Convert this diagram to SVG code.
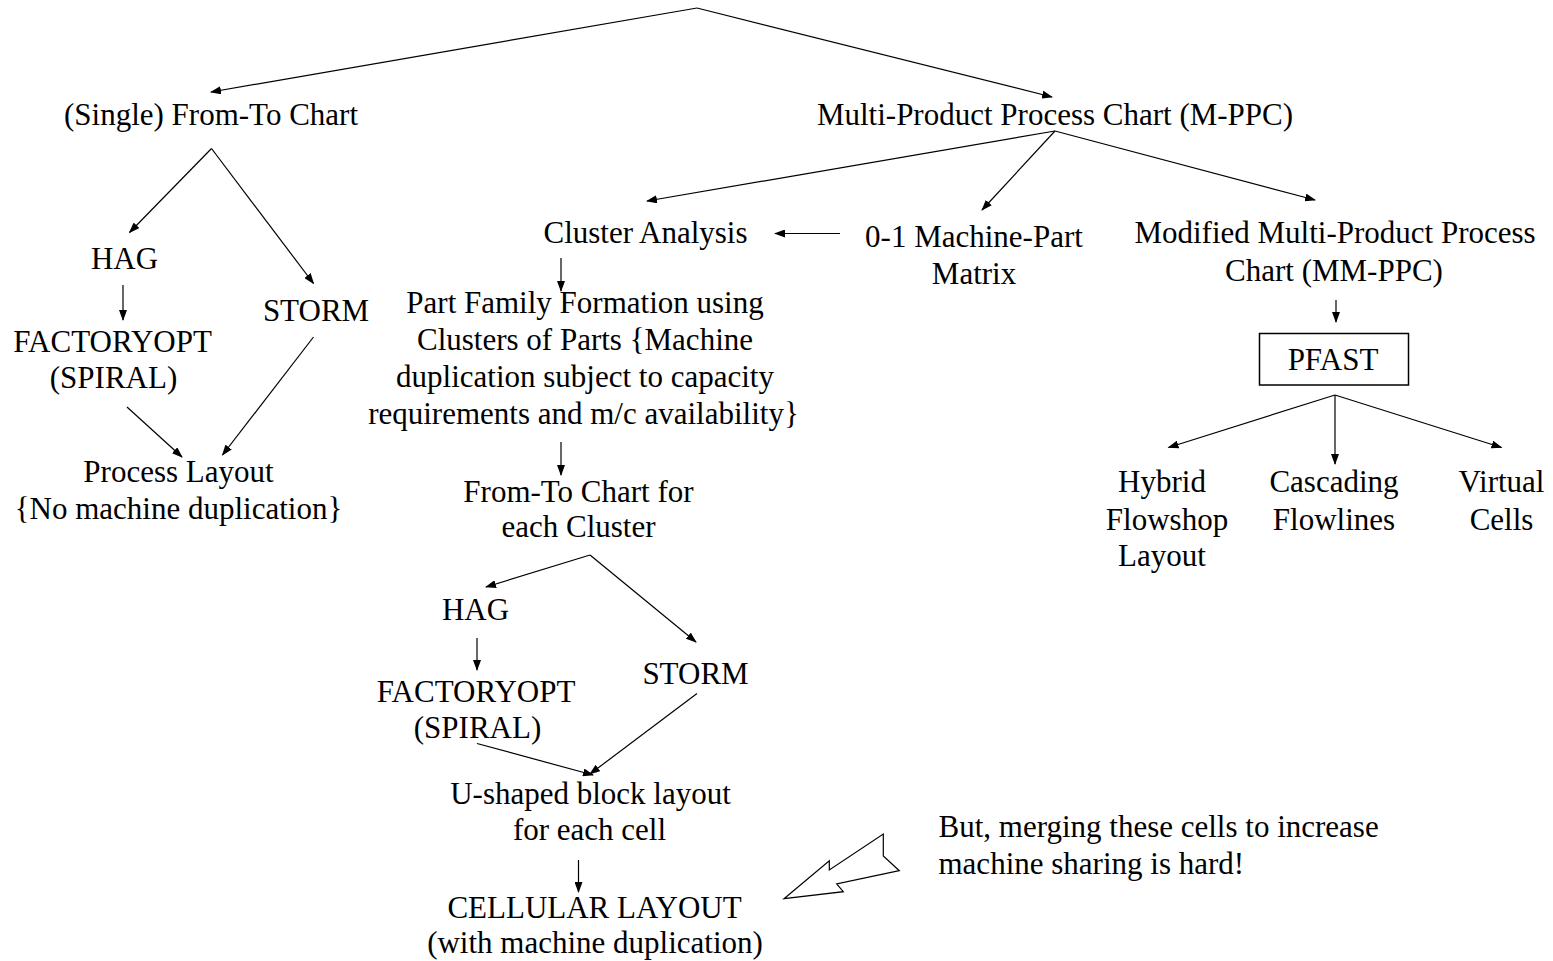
<svg xmlns="http://www.w3.org/2000/svg" width="1553" height="961" viewBox="0 0 1553 961">
  <style>
    text { font-family: "Liberation Serif", "Times New Roman", serif; font-size: 31px; fill: #000; text-anchor: middle; }
    text.left { text-anchor: start; }
    .edge { stroke: #000; stroke-width: 1.2; fill: none; marker-end: url(#arrow); }
    .box { fill: #fff; stroke: #000; stroke-width: 1.5; }
  </style>
  <defs>
    <marker id="arrow" markerUnits="userSpaceOnUse" markerWidth="11" markerHeight="8" refX="10" refY="4" orient="auto">
      <path d="M0,0 L11,4 L0,8 z" fill="#000"/>
    </marker>
  </defs>
  <rect width="1553" height="961" fill="#fff"/>

  <g id="connectors">
    <!-- root split -->
    <line class="edge" x1="697" y1="8" x2="211" y2="92"/>
    <line class="edge" x1="697" y1="8" x2="1052" y2="97"/>
    <!-- single from-to chart branch -->
    <line class="edge" x1="211.5" y1="148.5" x2="129.5" y2="232.5"/>
    <line class="edge" x1="211.5" y1="148.5" x2="313.5" y2="283.5"/>
    <line class="edge" x1="123" y1="285" x2="123" y2="320"/>
    <line class="edge" x1="127" y1="407" x2="182" y2="457"/>
    <line class="edge" x1="313.5" y1="337" x2="222.5" y2="455"/>
    <!-- multi-product process chart branch -->
    <line class="edge" x1="1055" y1="131" x2="647" y2="201"/>
    <line class="edge" x1="1055" y1="131" x2="982" y2="210"/>
    <line class="edge" x1="1055" y1="131" x2="1315" y2="200"/>
    <line class="edge" x1="840" y1="233.5" x2="775" y2="233.5"/>
    <line class="edge" x1="561" y1="258" x2="561" y2="291"/>
    <line class="edge" x1="561" y1="442" x2="561" y2="475"/>
    <!-- per-cluster layout -->
    <line class="edge" x1="590" y1="555" x2="486" y2="587"/>
    <line class="edge" x1="590" y1="555" x2="696" y2="642"/>
    <line class="edge" x1="477" y1="638" x2="477" y2="670"/>
    <line class="edge" x1="477" y1="743.5" x2="593" y2="775"/>
    <line class="edge" x1="697" y1="693.5" x2="590" y2="774"/>
    <line class="edge" x1="578.5" y1="860" x2="578.5" y2="892"/>
    <!-- MM-PPC / PFAST -->
    <line class="edge" x1="1336" y1="300" x2="1336" y2="322"/>
    <line class="edge" x1="1335" y1="395" x2="1168.5" y2="447.5"/>
    <line class="edge" x1="1335" y1="395" x2="1335" y2="464"/>
    <line class="edge" x1="1335" y1="395" x2="1501.5" y2="447.5"/>
  </g>

  <g id="single-from-to-chart"><text x="211" y="125">(Single) From-To Chart</text></g>
  <g id="mppc"><text x="1055" y="125">Multi-Product Process Chart (M-PPC)</text></g>

  <g id="hag-1"><text x="124.5" y="269">HAG</text></g>
  <g id="storm-1"><text x="316" y="321">STORM</text></g>
  <g id="factoryopt-1">
    <text x="112.5" y="352">FACTORYOPT</text>
    <text x="113.5" y="388">(SPIRAL)</text>
  </g>
  <g id="process-layout">
    <text x="178.5" y="482">Process Layout</text>
    <text x="178.5" y="519">{No machine duplication}</text>
  </g>

  <g id="cluster-analysis"><text x="645.5" y="243">Cluster Analysis</text></g>
  <g id="machine-part-matrix">
    <text x="974" y="247">0-1 Machine-Part</text>
    <text x="974" y="284">Matrix</text>
  </g>
  <g id="mmppc">
    <text x="1335" y="243">Modified Multi-Product Process</text>
    <text x="1334" y="281">Chart (MM-PPC)</text>
  </g>

  <g id="part-family-formation">
    <text x="585" y="312.5">Part Family Formation using</text>
    <text x="585" y="349.5">Clusters of Parts {Machine</text>
    <text x="585" y="386.5">duplication subject to capacity</text>
    <text x="583.5" y="423.5">requirements and m/c availability}</text>
  </g>
  <g id="cluster-from-to-chart">
    <text x="578.5" y="501.5">From-To Chart for</text>
    <text x="578.5" y="537">each Cluster</text>
  </g>

  <g id="hag-2"><text x="475.5" y="619.5">HAG</text></g>
  <g id="storm-2"><text x="695.5" y="683.5">STORM</text></g>
  <g id="factoryopt-2">
    <text x="476" y="701.5">FACTORYOPT</text>
    <text x="477.5" y="737.5">(SPIRAL)</text>
  </g>
  <g id="u-shaped-layout">
    <text x="590.5" y="803.5">U-shaped block layout</text>
    <text x="589.5" y="840">for each cell</text>
  </g>
  <g id="cellular-layout">
    <text x="594.5" y="918">CELLULAR LAYOUT</text>
    <text x="595" y="953">(with machine duplication)</text>
  </g>

  <g id="pfast">
    <rect class="box" x="1259.5" y="333.5" width="149" height="51.5"/>
    <text x="1333" y="369.5">PFAST</text>
  </g>
  <g id="hybrid-flowshop">
    <text x="1162" y="492">Hybrid</text>
    <text x="1167" y="529.5">Flowshop</text>
    <text x="1162" y="566">Layout</text>
  </g>
  <g id="cascading-flowlines">
    <text x="1334" y="492">Cascading</text>
    <text x="1334" y="529.5">Flowlines</text>
  </g>
  <g id="virtual-cells">
    <text x="1501.5" y="492">Virtual</text>
    <text x="1501.5" y="529.5">Cells</text>
  </g>

  <g id="merge-note">
    <polygon points="784,898.7 829.3,860.7 829.3,870 883.3,834 883.3,856 899.3,870.7 836.7,884 843.3,891.7" fill="#fff" stroke="#000" stroke-width="1.2" stroke-linejoin="miter"/>
    <text class="left" x="938.5" y="837">But, merging these cells to increase</text>
    <text class="left" x="938.5" y="874">machine sharing is hard!</text>
  </g>
</svg>
